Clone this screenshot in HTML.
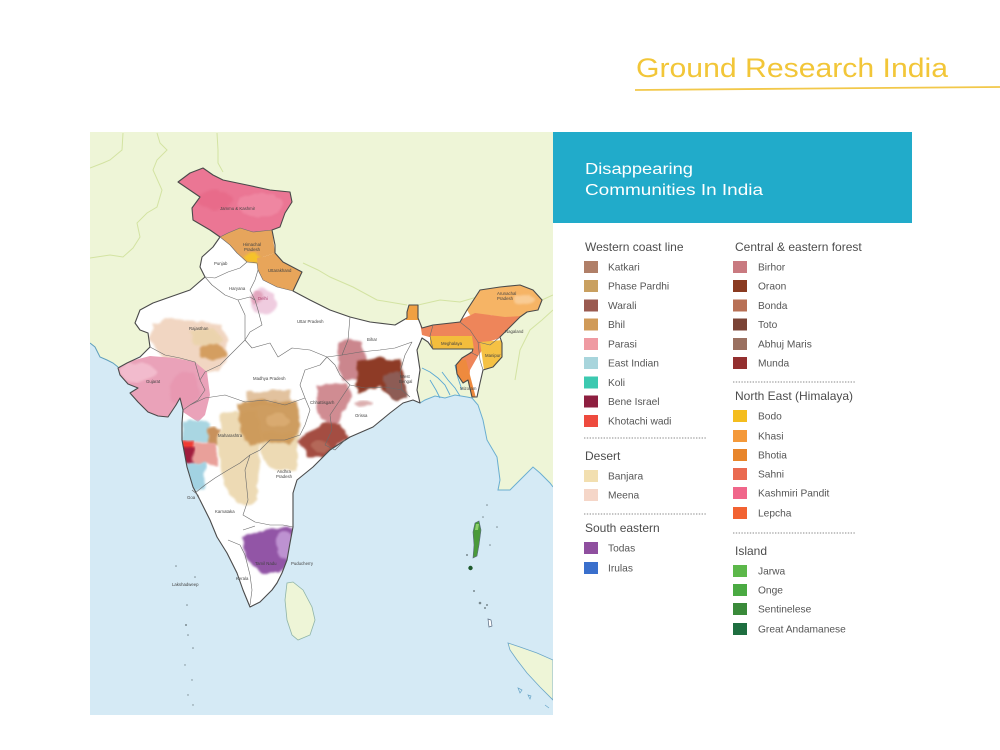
<!DOCTYPE html>
<html><head><meta charset="utf-8"><style>
html,body{margin:0;padding:0;background:#fff;}
svg{display:block;}
</style></head><body>
<svg width="1000" height="750" viewBox="0 0 1000 750" xmlns="http://www.w3.org/2000/svg" font-family="'Liberation Sans', sans-serif">
<defs>
<clipPath id="mapclip"><rect x="90" y="132" width="463" height="583"/></clipPath>
<clipPath id="indclip"><path id="indp" d="M178,182 L190,173 L203,168 L213,175 L223,180 L247,185 L270,190 L290,192 L292,202 L285,213 L280,227 L272,230 L275,245 L275,253 L283,262 L302,272 L293,291 L310,300 L330,310 L350,317 L370,322 L395,325 L407,318 L407,312 L409,305 L418,305 L418,318 L422,328 L433,325 L460,322 L467,310 L480,290 L500,287 L520,285 L533,290 L542,300 L538,310 L527,312 L520,317 L507,330 L500,337 L502,343 L502,357 L493,367 L483,370 L480,383 L477,397 L472,397 L468,380 L463,383 L457,374 L456,365 L462,358 L472,352 L473,349 L433,349 L428,342 L422,338 L417,350 L420,370 L417,390 L420,403 L413,400 L403,403 L390,413 L373,427 L350,437 L330,450 L313,467 L297,480 L293,493 L293,507 L293,527 L290,543 L287,560 L282,573 L277,583 L272,590 L260,602 L250,607 L243,590 L237,573 L227,553 L217,537 L210,520 L200,500 L193,487 L187,467 L182,440 L182,423 L183,410 L180,398 L176,405 L168,417 L158,416 L148,412 L138,402 L130,393 L138,388 L128,384 L120,375 L118,368 L127,363 L140,357 L150,347 L148,333 L140,330 L135,323 L140,310 L153,303 L170,297 L190,290 L205,277 L200,267 L202,257 L213,247 L220,237 L210,230 L193,220 L192,208 L200,197 Z"/></clipPath>
<filter id="wc" x="-10%" y="-10%" width="120%" height="120%">
<feTurbulence type="fractalNoise" baseFrequency="0.09" numOctaves="2" seed="4" result="n"/>
<feDisplacementMap in="SourceGraphic" in2="n" scale="7" xChannelSelector="R" yChannelSelector="G"/>
<feGaussianBlur stdDeviation="1.1"/>
</filter>
</defs>

<!-- Title -->
<text x="636" y="77" font-size="27" fill="#f2c638" textLength="312" lengthAdjust="spacingAndGlyphs">Ground Research India</text>
<path d="M635,90 L800,88.6 L1000,87" stroke="#f2c84a" stroke-width="1.8" fill="none"/>

<!-- MAP -->
<g clip-path="url(#mapclip)">
<rect x="90" y="132" width="463" height="583" fill="#d5eaf5"/>
<path d="M90,132 L553,132 L553,487 L550,483 L540,473 L533,467 L520,480 L510,490 L498,490 L500,480 L497,457 L487,440 L483,420 L478,405 L472,398 L467,397 L455,395 L445,398 L435,396 L425,400 L420,403 L405,385 L390,372 L300,360 L200,360 L150,350 L127,363 L118,367 L113,363 L107,360 L100,357 L95,347 L90,343 Z" fill="#eef5d7"/>
<path d="M90,343 L95,347 L100,357 L107,360 L113,363 L118,367" stroke="#5f9fbd" stroke-width="1" fill="none"/>
<path d="M420,403 L425,400 L435,396 L445,398 L455,395 L467,397 L472,398 L478,405 L483,420 L487,440 L497,457 L500,480 L498,490 L510,490 L520,480 L533,467 L540,473 L550,483 L553,487" stroke="#6aaed0" stroke-width="1" fill="none"/>
<path d="M422,368 L430,372 L438,378 L445,385 L450,395 M430,380 L436,390 L440,398 M442,372 L448,380 L455,388 L460,396 M455,365 L458,378 L462,390" stroke="#5aa8d4" stroke-width="0.9" fill="none"/>
<g stroke="#d3e3a2" stroke-width="1" fill="none">
<path d="M90,258 L110,255 L123,257 L133,248 L140,237 L137,223 L147,213 L157,207 L162,190 L153,170 L157,160 L167,150 L160,143 L157,133"/>
<path d="M123,133 L122,150 L110,160 L103,163 L90,168"/>
<path d="M217,133 L218,150 L218,163 L223,172"/>
<path d="M303,263 L318,270 L330,277 L353,287 L377,300 L407,305"/>
<path d="M418,305 L440,300 L460,302 L477,297"/>
<path d="M542,300 L553,295"/>
<path d="M553,310 L542,320 L530,330 L520,350 L515,380"/>
</g>
<path d="M287,583 L293,582 L303,590 L312,607 L315,620 L310,635 L298,640 L292,635 L287,620 L285,600 Z" fill="#eef5d7" stroke="#8fb4a8" stroke-width="0.8"/>
<path d="M508,643 L520,647 L537,653 L553,660 L553,700 L540,687 L527,673 L517,660 L510,650 Z" fill="#eef5d7" stroke="#6aa6c8" stroke-width="0.8"/>
<g fill="none" stroke="#6aa6c8" stroke-width="0.7"><path d="M518,688 l4,2 l-2,3 z M528,695 l3,1 l-1,3 z M545,705 l4,3"/></g>

<use href="#indp" fill="#ffffff"/>

<g clip-path="url(#indclip)">
<path d="M178,182 L190,173 L203,168 L223,180 L247,185 L270,190 L290,192 L292,202 L285,213 L280,227 L272,230 L253,232 L240,228 L228,233 L220,237 L210,230 L193,220 L192,208 L200,197 Z" fill="#eb7694"/>
<ellipse cx="260" cy="205" rx="22" ry="12" fill="#f292aa" opacity="0.6" filter="url(#wc)"/>
<ellipse cx="215" cy="200" rx="18" ry="10" fill="#e4607f" opacity="0.45" filter="url(#wc)"/>
<path d="M220,237 L228,233 L240,228 L253,232 L272,230 L275,253 L263,257 L257,263 L247,262 L237,253 L230,245 Z" fill="#e6a55c"/>
<ellipse cx="252" cy="258" rx="8" ry="5" fill="#f6c22c" filter="url(#wc)"/>
<path d="M257,258 L263,257 L275,253 L283,262 L302,272 L293,291 L277,287 L263,280 L258,270 Z" fill="#e8a55a"/>
<ellipse cx="263" cy="302" rx="13" ry="13" fill="#ebc0d8" opacity="0.8" filter="url(#wc)"/>
<ellipse cx="257" cy="298" rx="7" ry="6" fill="#dc94ae" opacity="0.7" filter="url(#wc)"/>
<path d="M152,325 L165,318 L185,320 L205,322 L222,325 L228,340 L226,360 L218,372 L200,375 L180,365 L160,355 L150,340 Z" fill="#f0d2bc" opacity="0.9" filter="url(#wc)"/>
<path d="M190,330 L215,328 L222,342 L210,350 L195,345 Z" fill="#ead3a8" opacity="0.8" filter="url(#wc)"/>
<ellipse cx="213" cy="352" rx="14" ry="8" fill="#d49e60" filter="url(#wc)"/>
<path d="M118,368 L127,362 L150,356 L175,358 L195,362 L207,372 L210,395 L205,415 L198,422 L183,412 L180,398 L176,405 L168,417 L158,416 L148,412 L138,402 L130,393 L138,388 L128,384 L120,375 Z" fill="#eaa2b9"/>
<ellipse cx="138" cy="372" rx="18" ry="9" fill="#f4c2d2" opacity="0.8" filter="url(#wc)"/>
<ellipse cx="185" cy="390" rx="14" ry="18" fill="#e690ab" opacity="0.55" filter="url(#wc)"/>
<rect x="181" y="421" width="28" height="22" fill="#a9d6e2" filter="url(#wc)"/>
<rect x="207" y="428" width="13" height="17" fill="#c8915c" filter="url(#wc)"/>
<rect x="192" y="443" width="25" height="22" fill="#e9a09a" filter="url(#wc)"/>
<rect x="181" y="441" width="12" height="10" fill="#f03a32" filter="url(#wc)"/>
<rect x="182" y="448" width="12" height="16" fill="#a01a3c" filter="url(#wc)"/>
<rect x="183" y="463" width="22" height="27" fill="#a2d2e2" filter="url(#wc)"/>
<path d="M222,413 L257,410 L262,430 L258,470 L257,500 L245,507 L230,495 L220,470 L218,440 Z" fill="#eddaB4" filter="url(#wc)"/>
<path d="M260,432 L298,432 L298,470 L275,470 L262,460 Z" fill="#eddab4" filter="url(#wc)"/>
<path d="M247,392 L290,390 L292,405 L250,408 Z" fill="#dfbc94" opacity="0.9" filter="url(#wc)"/>
<path d="M237,403 L265,400 L298,402 L300,430 L290,445 L265,440 L250,447 L240,432 Z" fill="#cc9858" opacity="0.95" filter="url(#wc)"/>
<ellipse cx="278" cy="420" rx="12" ry="7" fill="#dcae74" opacity="0.8" filter="url(#wc)"/>
<path d="M340,342 L350,338 L363,343 L367,363 L357,380 L343,380 L338,360 Z" fill="#cb868d" filter="url(#wc)"/>
<path d="M317,385 L347,383 L352,397 L340,417 L333,430 L317,413 Z" fill="#d08c92" filter="url(#wc)"/>
<path d="M357,363 L380,358 L400,360 L407,397 L397,400 L380,387 L357,393 Z" fill="#8e3a26" filter="url(#wc)"/>
<path d="M384,375 L400,372 L408,398 L395,400 L385,390 Z" fill="#8d5c54" filter="url(#wc)"/>
<path d="M297,440 L323,423 L340,423 L347,437 L327,457 L307,457 Z" fill="#a44e42" filter="url(#wc)"/>
<ellipse cx="320" cy="447" rx="10" ry="6" fill="#b8705e" opacity="0.8" filter="url(#wc)"/>
<ellipse cx="363" cy="404" rx="9" ry="3" fill="#c47a7a" opacity="0.6" filter="url(#wc)"/>
<path d="M243,538 L262,530 L285,527 L294,530 L292,560 L280,573 L262,573 L246,560 Z" fill="#9254a6" filter="url(#wc)"/>
<ellipse cx="285" cy="545" rx="9" ry="14" fill="#c9a2dc" opacity="0.8" filter="url(#wc)"/>
<rect x="406" y="303" width="14" height="17" fill="#f0a042"/>
<path d="M467,310 L480,290 L500,287 L520,285 L533,290 L542,300 L538,310 L527,312 L520,317 L505,318 L490,315 L470,315 Z" fill="#f6b465"/>
<ellipse cx="525" cy="300" rx="10" ry="6" fill="#fbd6a8" opacity="0.7" filter="url(#wc)"/>
<path d="M420,322 L460,320 L475,313 L505,317 L522,316 L507,330 L500,338 L488,342 L478,356 L470,370 L468,398 L460,382 L458,360 L470,340 L433,338 L422,335 Z" fill="#ee855a"/>
<path d="M430,336 L472,336 L474,350 L430,350 Z" fill="#f3bd3c"/>
<path d="M480,342 L503,340 L503,368 L484,370 Z" fill="#f5c144"/>
<path d="M453,360 L466,360 L476,398 L460,398 L452,375 Z" fill="#ee8a3e"/>
</g>

<use href="#indp" fill="none" stroke="#4a4a4a" stroke-width="1.1" stroke-linejoin="round"/>
<g stroke="#6a6a6a" stroke-width="0.6" fill="none" stroke-linejoin="round">
<path d="M220,237 L228,233 L240,228 L253,232 L272,230"/>
<path d="M220,237 L230,245 L237,253 L247,262 L257,263 L258,270"/>
<path d="M205,277 L215,278 L228,272 L240,268 L247,262"/>
<path d="M205,277 L212,285 L225,295 L238,300 L250,297 L255,300"/>
<path d="M258,270 L255,280 L250,290 L255,300"/>
<path d="M258,270 L263,280 L277,287 L293,291"/>
<path d="M255,300 L258,310 L262,325 L250,332 L245,340 L252,348 L270,343 L278,357 L292,348 L310,350 L327,357 L342,355 L348,340 L350,317"/>
<path d="M238,300 L245,315 L245,340 L230,355 L220,365 L205,372 L200,380"/>
<path d="M150,347 L165,355 L180,358 L195,362 L200,380 L205,390 L198,400 L190,405 L183,410"/>
<path d="M190,405 L205,398 L225,395 L245,402 L265,400 L285,405 L305,398"/>
<path d="M327,357 L320,365 L305,370 L300,385 L305,398"/>
<path d="M327,357 L335,365 L340,375 L350,385 L365,388 L385,387 L402,390"/>
<path d="M342,355 L360,352 L380,350 L395,348 L412,342 L405,355 L400,372 L402,390 L410,397"/>
<path d="M350,385 L340,400 L330,415 L332,430 L325,445 L335,450 L345,440"/>
<path d="M305,398 L310,410 L305,425 L300,435 L285,440 L270,440 L260,450 L250,455"/>
<path d="M195,493 L205,485 L215,478 L228,470 L240,463 L250,455 L245,470 L248,500 L243,515 L255,522 L270,525 L283,525 L293,527"/>
<path d="M243,530 L255,526 M228,540 L240,545 L245,555 L250,575 L252,590 L250,605"/>
<path d="M192,490 L198,495 L200,500"/>
<path d="M433,325 L430,336 L433,349 M460,322 L470,330 L478,342 L490,345 L500,337 M478,342 L480,360 L483,370 M470,352 L478,356"/>
</g>

<g fill="#7a8a90">
<circle cx="176" cy="566" r="0.8"/><circle cx="195" cy="577" r="0.8"/><circle cx="187" cy="605" r="0.8"/>
<circle cx="186" cy="625" r="1"/><circle cx="188" cy="635" r="0.8"/><circle cx="193" cy="648" r="0.8"/>
<circle cx="185" cy="665" r="0.7"/><circle cx="192" cy="680" r="0.7"/><circle cx="188" cy="695" r="0.7"/><circle cx="193" cy="705" r="0.7"/>
<circle cx="487" cy="505" r="0.8"/><circle cx="483" cy="517" r="0.8"/><circle cx="497" cy="527" r="0.8"/><circle cx="490" cy="545" r="0.8"/>
<circle cx="467" cy="555" r="1"/><circle cx="474" cy="591" r="1"/><circle cx="480" cy="603" r="1.3"/><circle cx="485" cy="608" r="1"/><circle cx="487" cy="605" r="1"/>
</g>
<path d="M475,523 L479,521 L481,530 L479,545 L477,556 L473,558 L474,545 L473,532 Z" fill="#4a9a3a" stroke="#5a6a80" stroke-width="0.6"/>
<path d="M476,524 L479,524 L478,530 L475,530 Z" fill="#8ed06a"/>
<circle cx="470.5" cy="568" r="2.2" fill="#1d5a2c"/>
<path d="M488,619 L491,620 L492,626 L489,627 Z" fill="#fff" stroke="#5a6a80" stroke-width="0.7"/>

<g font-size="4.3" fill="#444">
<text x="220" y="210">Jammu &amp; Kashmir</text>
<text x="243" y="246">Himachal</text><text x="244" y="251">Pradesh</text>
<text x="268" y="272">Uttarakhand</text>
<text x="214" y="265">Punjab</text>
<text x="229" y="290">Haryana</text>
<text x="258" y="300" fill="#b04070">Delhi</text>
<text x="189" y="330">Rajasthan</text>
<text x="297" y="323">Uttar Pradesh</text>
<text x="146" y="383">Gujarat</text>
<text x="253" y="380">Madhya Pradesh</text>
<text x="367" y="341">Bihar</text>
<text x="400" y="378">West</text><text x="399" y="383">Bengal</text>
<text x="310" y="404">Chhattisgarh</text>
<text x="355" y="417">Orissa</text>
<text x="218" y="437">Maharashtra</text>
<text x="277" y="473">Andhra</text><text x="276" y="478">Pradesh</text>
<text x="187" y="499">Goa</text>
<text x="215" y="513">Karnataka</text>
<text x="255" y="565">Tamil Nadu</text>
<text x="236" y="580">Kerala</text>
<text x="291" y="565">Puducherry</text>
<text x="172" y="586">Lakshadweep</text>
<text x="497" y="295">Arunachal</text><text x="497" y="300">Pradesh</text>
<text x="505" y="333">Nagaland</text>
<text x="441" y="345">Meghalaya</text>
<text x="485" y="357">Manipur</text>
<text x="460" y="390">Mizoram</text>
</g>
</g>

<rect x="553" y="132" width="359" height="91" fill="#21abca"/>
<text x="585" y="174" font-size="16" fill="#ffffff" textLength="108" lengthAdjust="spacingAndGlyphs">Disappearing</text>
<text x="585" y="195" font-size="16" fill="#ffffff" textLength="178" lengthAdjust="spacingAndGlyphs">Communities In India</text>

<g fill="#555" font-size="10.2">
<text x="585" y="251" font-size="12" fill="#4d4d4d">Western coast line</text>
<rect x="584" y="261" width="14" height="12" fill="#b07f68"/><text x="608" y="270.5">Katkari</text>
<rect x="584" y="280" width="14" height="12" fill="#c9a060"/><text x="608" y="289.5">Phase Pardhi</text>
<rect x="584" y="299.5" width="14" height="12" fill="#9a5a50"/><text x="608" y="309">Warali</text>
<rect x="584" y="318.5" width="14" height="12" fill="#d09a58"/><text x="608" y="328">Bhil</text>
<rect x="584" y="338" width="14" height="12" fill="#ef9aa2"/><text x="608" y="347.5">Parasi</text>
<rect x="584" y="357" width="14" height="12" fill="#a8d5dc"/><text x="608" y="366.5">East Indian</text>
<rect x="584" y="376.5" width="14" height="12" fill="#3cc9b0"/><text x="608" y="386">Koli</text>
<rect x="584" y="395.5" width="14" height="12" fill="#8e1f40"/><text x="608" y="405">Bene Israel</text>
<rect x="584" y="415" width="14" height="12" fill="#ee4a3e"/><text x="608" y="424.5">Khotachi wadi</text>
<line x1="584" y1="438" x2="707" y2="438" stroke="#8a8a8a" stroke-width="0.9" stroke-dasharray="1.4,1.4"/>
<text x="585" y="460" font-size="12" fill="#4d4d4d">Desert</text>
<rect x="584" y="470" width="14" height="12" fill="#f2dfb0"/><text x="608" y="479.5">Banjara</text>
<rect x="584" y="489" width="14" height="12" fill="#f5d6c8"/><text x="608" y="498.5">Meena</text>
<line x1="584" y1="514" x2="707" y2="514" stroke="#8a8a8a" stroke-width="0.9" stroke-dasharray="1.4,1.4"/>
<text x="585" y="532" font-size="12" fill="#4d4d4d">South eastern</text>
<rect x="584" y="542" width="14" height="12" fill="#8f4f9f"/><text x="608" y="551.5">Todas</text>
<rect x="584" y="562" width="14" height="12" fill="#3a6fcc"/><text x="608" y="571.5">Irulas</text>
</g>

<g fill="#555" font-size="10.2">
<text x="735" y="251" font-size="12" fill="#4d4d4d">Central &amp; eastern forest</text>
<rect x="733" y="261" width="14" height="12" fill="#c97a80"/><text x="758" y="270.5">Birhor</text>
<rect x="733" y="280" width="14" height="12" fill="#8a3a20"/><text x="758" y="289.5">Oraon</text>
<rect x="733" y="299.5" width="14" height="12" fill="#b87055"/><text x="758" y="309">Bonda</text>
<rect x="733" y="318.5" width="14" height="12" fill="#7a4335"/><text x="758" y="328">Toto</text>
<rect x="733" y="338" width="14" height="12" fill="#9a7060"/><text x="758" y="347.5">Abhuj Maris</text>
<rect x="733" y="357" width="14" height="12" fill="#932f2f"/><text x="758" y="366.5">Munda</text>
<line x1="733" y1="382" x2="856" y2="382" stroke="#8a8a8a" stroke-width="0.9" stroke-dasharray="1.4,1.4"/>
<text x="735" y="400" font-size="12" fill="#4d4d4d">North East (Himalaya)</text>
<rect x="733" y="410" width="14" height="12" fill="#f4bd1e"/><text x="758" y="419.5">Bodo</text>
<rect x="733" y="430" width="14" height="12" fill="#f4993a"/><text x="758" y="439.5">Khasi</text>
<rect x="733" y="449" width="14" height="12" fill="#e8852a"/><text x="758" y="458.5">Bhotia</text>
<rect x="733" y="468" width="14" height="12" fill="#ea6a50"/><text x="758" y="477.5">Sahni</text>
<rect x="733" y="487" width="14" height="12" fill="#f0668a"/><text x="758" y="496.5">Kashmiri Pandit</text>
<rect x="733" y="507" width="14" height="12" fill="#f26232"/><text x="758" y="516.5">Lepcha</text>
<line x1="733" y1="533" x2="856" y2="533" stroke="#8a8a8a" stroke-width="0.9" stroke-dasharray="1.4,1.4"/>
<text x="735" y="555" font-size="12" fill="#4d4d4d">Island</text>
<rect x="733" y="565" width="14" height="12" fill="#5cb84a"/><text x="758" y="574.5">Jarwa</text>
<rect x="733" y="584" width="14" height="12" fill="#4aaa42"/><text x="758" y="593.5">Onge</text>
<rect x="733" y="603" width="14" height="12" fill="#3a8a3a"/><text x="758" y="612.5">Sentinelese</text>
<rect x="733" y="623" width="14" height="12" fill="#1e6e40"/><text x="758" y="632.5">Great Andamanese</text>
</g>
</svg>
</body></html>
